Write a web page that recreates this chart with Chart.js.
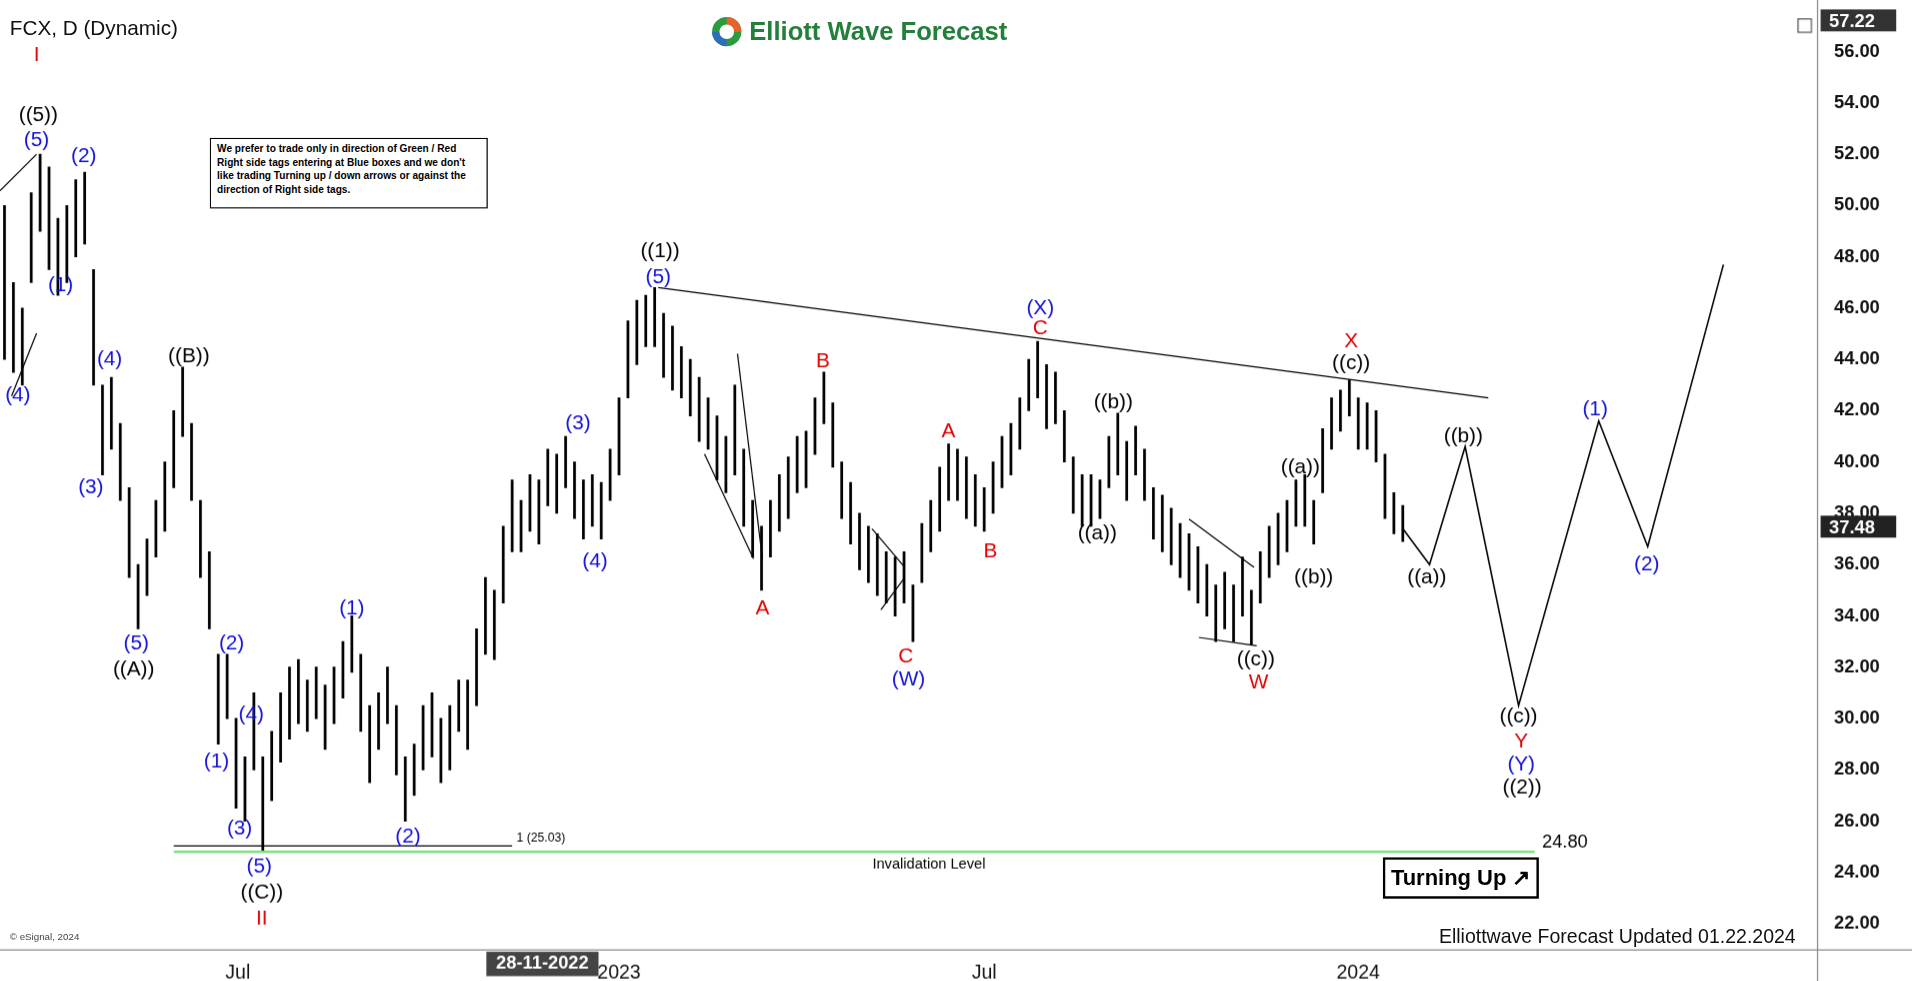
<!DOCTYPE html>
<html><head><meta charset="utf-8">
<script src="https://cdn.jsdelivr.net/npm/chart.js@4.4.1/dist/chart.umd.min.js"></script>
<style>
html,body{margin:0;padding:0;background:#fff;overflow:hidden}
#wrap{position:absolute;left:0;top:0;width:1568px;height:805px;transform:scale(1.21939);transform-origin:0 0;font-family:"Liberation Sans",Arial,sans-serif}
#c{position:absolute;left:0;top:0}
.t{position:absolute;white-space:nowrap}
</style></head><body>
<div id="wrap">
<canvas id="c" width="1568" height="805"></canvas>
<div class="t" style="left:8px;top:14px;font-size:17px;color:#111">FCX, D (Dynamic)</div>
<div class="t" style="left:582px;top:12px;">
 <svg width="28" height="28" viewBox="0 0 28 28" style="vertical-align:middle"><circle cx="14" cy="14" r="12" fill="#2e9a3e"/><path d="M14 2 A12 12 0 0 1 26 14 L14 14Z" fill="#e8632b"/><path d="M2 14 A12 12 0 0 0 14 26 L14 14Z" fill="#2d6fb5"/><circle cx="14" cy="14" r="6" fill="#fff"/></svg>
 <span style="font-size:21px;font-weight:bold;color:#23803a;vertical-align:middle">Elliott Wave Forecast</span></div>
<div class="t" style="left:172px;top:113px;width:216px;height:50px;border:1px solid #000;padding:3px 5px;font-size:8.3px;font-weight:bold;line-height:11px;white-space:normal;color:#000;background:#fff">We prefer to trade only in direction of Green / Red Right side tags entering at Blue boxes and we don't like trading Turning up / down arrows or against the direction of Right side tags.</div>
<div class="t" style="left:1134px;top:703px;width:124px;height:30px;border:2px solid #000;font-size:18px;font-weight:bold;line-height:30px;text-align:center;color:#000">Turning Up &#x2197;</div>
<div class="t" style="left:1180px;top:759px;font-size:16px;color:#111">Elliottwave Forecast Updated 01.22.2024</div>
<div class="t" style="left:8px;top:764px;font-size:8px;color:#444">© eSignal, 2024</div>
<div class="t" style="left:1474px;top:15px;width:10px;height:10px;border:1px solid #555;font-size:7px"></div>
</div>
<script>
// ---- data ----
const highs=[50,47,46,50.5,52,51.5,49.5,50,51,51.3,47.5,43,43.3,41.5,39,36,37,38.5,40,42,43.7,41.5,38.5,36.5,32.5,32.5,30,28.5,31,28.5,29.5,31,32,32.3,31.5,32,31.3,32,33,34,32.5,30.5,31,32,30.5,28.5,29,30.5,31,30,30.5,31.5,31.5,33.5,35.5,35,37.5,39.3,38.5,39.5,39.3,40.5,40.3,41,40,39.3,39.5,39.2,40.5,42.5,45.5,46.3,46.5,46.8,45.8,45.3,44.5,44,43.3,42.5,41.8,41,43,40.5,38.5,37.5,38.5,39.5,40.2,41,41.2,42.5,43.5,42.3,40,39.2,38,37.5,37.2,36.5,36.3,36.5,35.2,37.6,38.5,39.8,40.7,40.5,40.2,39.5,39,40,41,41.5,42.5,44,44.7,43.8,43.5,42,40.2,39.5,39.5,39.3,41,41.9,40.8,41.4,40.5,39,38.7,38.2,37.6,37.2,36.7,36,35.2,35.7,35.2,36.3,35,36.5,37.5,38,38.5,39.3,39.5,38.5,41.3,42.5,42.8,43.2,42.5,42.3,42,40.3,38.8,38.3];
const lows=[44,43.5,43,47,49,47.5,46.5,47,48,48.5,43,39.5,40.5,38.5,35.5,33.5,34.8,36.3,37.3,39,41,38.5,35.5,33.5,29,30,26.5,26,28,24.8,26.8,28.3,29.2,29.8,29.5,30,28.8,29.8,30.8,31.8,29.5,27.5,28.8,29.8,27.8,26,27,28,28.5,27.5,28,29.5,28.8,30.5,32.5,32.3,34.5,36.5,36.5,37.3,36.8,38.3,38,39,37.8,37,37.5,37,38.5,39.5,42.5,43.8,44.5,44.5,43.3,42.8,42.5,41.8,40.8,40.5,39.3,38.8,39.5,37.5,36.3,35,36.3,37.3,37.8,38.8,39,40.3,41.5,39.8,37.8,36.8,35.8,35.3,34.8,34.5,34,34.5,33,35.3,36.5,37.3,38.5,38.5,37.8,37.5,37.3,38,39,39.5,40.5,42,42.5,41.3,41.5,40,38,37.5,37.5,37.8,39,39.5,38.5,39.5,38.5,37,36.5,36,35.5,35,34.5,34,33,33.5,33,34,32.9,34.5,35.5,36,36.5,37.5,37.5,36.8,38.8,40.5,41.2,41.8,40.5,40.5,40,37.8,37.2,36.9];
const projection=[[157,37.4],[160,36.0],[164,40.6],[170,30.5],[179,41.6],[184.5,36.7],[193,47.7]];
const yTicks=[22,24,26,28,30,32,34,36,38,40,42,44,46,48,50,52,54,56];
const xTickLabels={26.2:'Jul',69:'2023',110:'Jul',152:'2024'};
const crossLabel=[60.4,'28-11-2022'];
const lastPrice=37.48, topPrice=57.22, invalidation=24.80, fib=25.03;
const B='#1010d8',R='#e00000',K='#000';
const waveLabels=[[3.6,55.85,'I',R],[3.8,53.5,'((5))',K],[3.6,52.55,'(5)',B],[8.9,51.9,'(2)',B],[6.3,46.9,'(1)',B],[1.5,42.6,'(4)',B],[11.8,44,'(4)',B],[9.7,39,'(3)',B],[20.7,44.1,'((B))',K],[14.8,32.9,'(5)',B],[14.5,31.9,'((A))',K],[25.5,32.9,'(2)',B],[27.7,30.15,'(4)',B],[23.8,28.3,'(1)',B],[26.4,25.7,'(3)',B],[28.6,24.2,'(5)',B],[28.9,23.2,'((C))',K],[28.9,22.2,'II',R],[39,34.3,'(1)',B],[45.3,25.4,'(2)',B],[64.4,41.5,'(3)',B],[66.3,36.1,'(4)',B],[73.6,48.2,'((1))',K],[73.4,47.2,'(5)',B],[85.1,34.3,'A',R],[91.9,43.9,'B',R],[101.2,32.4,'C',R],[101.5,31.5,'(W)',B],[106,41.2,'A',R],[110.7,36.5,'B',R],[116.3,46.0,'(X)',B],[116.3,45.2,'C',R],[124.5,42.3,'((b))',K],[122.7,37.2,'((a))',K],[140.5,32.3,'((c))',K],[140.8,31.4,'W',R],[145.5,39.8,'((a))',K],[147,35.5,'((b))',K],[151.2,44.7,'X',R],[151.2,43.85,'((c))',K],[163.8,41.0,'((b))',K],[159.7,35.5,'((a))',K],[178.6,42.05,'(1)',B],[184.4,36.0,'(2)',B],[170,30.05,'((c))',K],[170.3,29.1,'Y',R],[170.3,28.2,'(Y)',B],[170.4,27.3,'((2))',K]];
const segments=[[73.4,46.8,166.6,42.5],[82.3,44.22,85.1,36.22],[78.6,40.31,84.1,36.22],[97.4,37.4,101.1,35.89],[98.4,34.24,101.1,35.51],[133,37.77,140.3,35.89],[134.1,33.16,140.6,32.83],[-0.5,50.58,3.6,52],[0.8,42.57,3.6,45.02]];

const bars=highs.map((h,i)=>({x:i,y:[lows[i],h]}));
const plug={id:'ann',afterDatasetsDraw(ch){
 const c=ch.ctx,x=ch.scales.x,y=ch.scales.y,a=ch.chartArea;
 c.save();
 c.strokeStyle='#000';c.lineWidth=1;c.beginPath();c.moveTo(x.getPixelForValue(19),y.getPixelForValue(fib));c.lineTo(x.getPixelForValue(57),y.getPixelForValue(fib));c.stroke();
 c.font='10px "Liberation Sans"';c.fillStyle='#000';c.textAlign='left';c.textBaseline='middle';
 c.fillText('1 ('+fib.toFixed(2)+')',x.getPixelForValue(57.5),y.getPixelForValue(fib)-6);
 c.strokeStyle='#7de07d';c.lineWidth=2;c.beginPath();c.moveTo(x.getPixelForValue(19),y.getPixelForValue(invalidation));c.lineTo(x.getPixelForValue(171.8),y.getPixelForValue(invalidation));c.stroke();
 c.font='12px "Liberation Sans"';c.textAlign='center';c.fillText('Invalidation Level',x.getPixelForValue(103.8),y.getPixelForValue(invalidation)+10);
 c.font='15px "Liberation Sans"';c.fillText(invalidation.toFixed(2),x.getPixelForValue(175.2),y.getPixelForValue(invalidation)-8);
 c.strokeStyle='#000';c.lineWidth=1;
 segments.forEach(s=>{c.beginPath();c.moveTo(x.getPixelForValue(s[0]),y.getPixelForValue(s[1]));c.lineTo(x.getPixelForValue(s[2]),y.getPixelForValue(s[3]));c.stroke();});
 c.font='17px "Liberation Sans"';
 waveLabels.forEach(l=>{c.fillStyle=l[3];c.fillText(l[2],x.getPixelForValue(l[0]),y.getPixelForValue(l[1]));});
 c.font='bold 15px "Liberation Sans"';c.textAlign='left';
 [[topPrice,'#333'],[lastPrice,'#222']].forEach(p=>{const py=y.getPixelForValue(p[0]);c.fillStyle=p[1];c.fillRect(a.right+3,py-9,62,18);c.fillStyle='#fff';c.fillText(p[0].toFixed(2),a.right+10,py+1);});
 const cx=x.getPixelForValue(crossLabel[0]);c.fillStyle='#444';c.fillRect(cx-46,a.bottom+2,92,20);c.fillStyle='#fff';c.font='bold 15px "Liberation Sans"';c.textAlign='center';c.fillText(crossLabel[1],cx,a.bottom+12);
 c.strokeStyle='#888';c.beginPath();c.moveTo(a.right+0.5,0);c.lineTo(a.right+0.5,ch.height);c.moveTo(0,a.bottom+0.5);c.lineTo(ch.width,a.bottom+0.5);c.stroke();
 c.restore();}};
new Chart(document.getElementById('c'),{
 data:{datasets:[
  {type:'bar',data:bars,backgroundColor:'#000',borderWidth:0,barThickness:1.6,grouped:false},
  {type:'line',data:projection.map(p=>({x:p[0],y:p[1]})),borderColor:'#000',borderWidth:1.3,pointRadius:0,tension:0}
 ]},
 options:{responsive:false,devicePixelRatio:1.21939,animation:false,
  layout:{padding:{top:8,left:0,right:0,bottom:0}},
  plugins:{legend:{display:false},tooltip:{enabled:false}},
  scales:{
   x:{type:'linear',offset:false,min:-0.5,max:203.5,grid:{display:false,offset:false},border:{display:false},
      afterBuildTicks(s){s.ticks=Object.keys(xTickLabels).map(v=>({value:+v}));},
      ticks:{autoSkip:false,maxRotation:0,color:'#111',font:{size:16,family:'Liberation Sans'},padding:2,callback:v=>xTickLabels[v]||''},
      afterFit(s){s.height=27;}},
   y:{position:'right',min:21.0,max:57.3,grid:{display:false},border:{display:false},
      afterBuildTicks(s){s.ticks=yTicks.map(v=>({value:v}));},
      ticks:{color:'#111',font:{size:15,weight:'bold',family:'Liberation Sans'},padding:6,callback:v=>v.toFixed(2)},
      afterFit(s){s.width=78;}}
  }},
 plugins:[plug]});
</script></body></html>
